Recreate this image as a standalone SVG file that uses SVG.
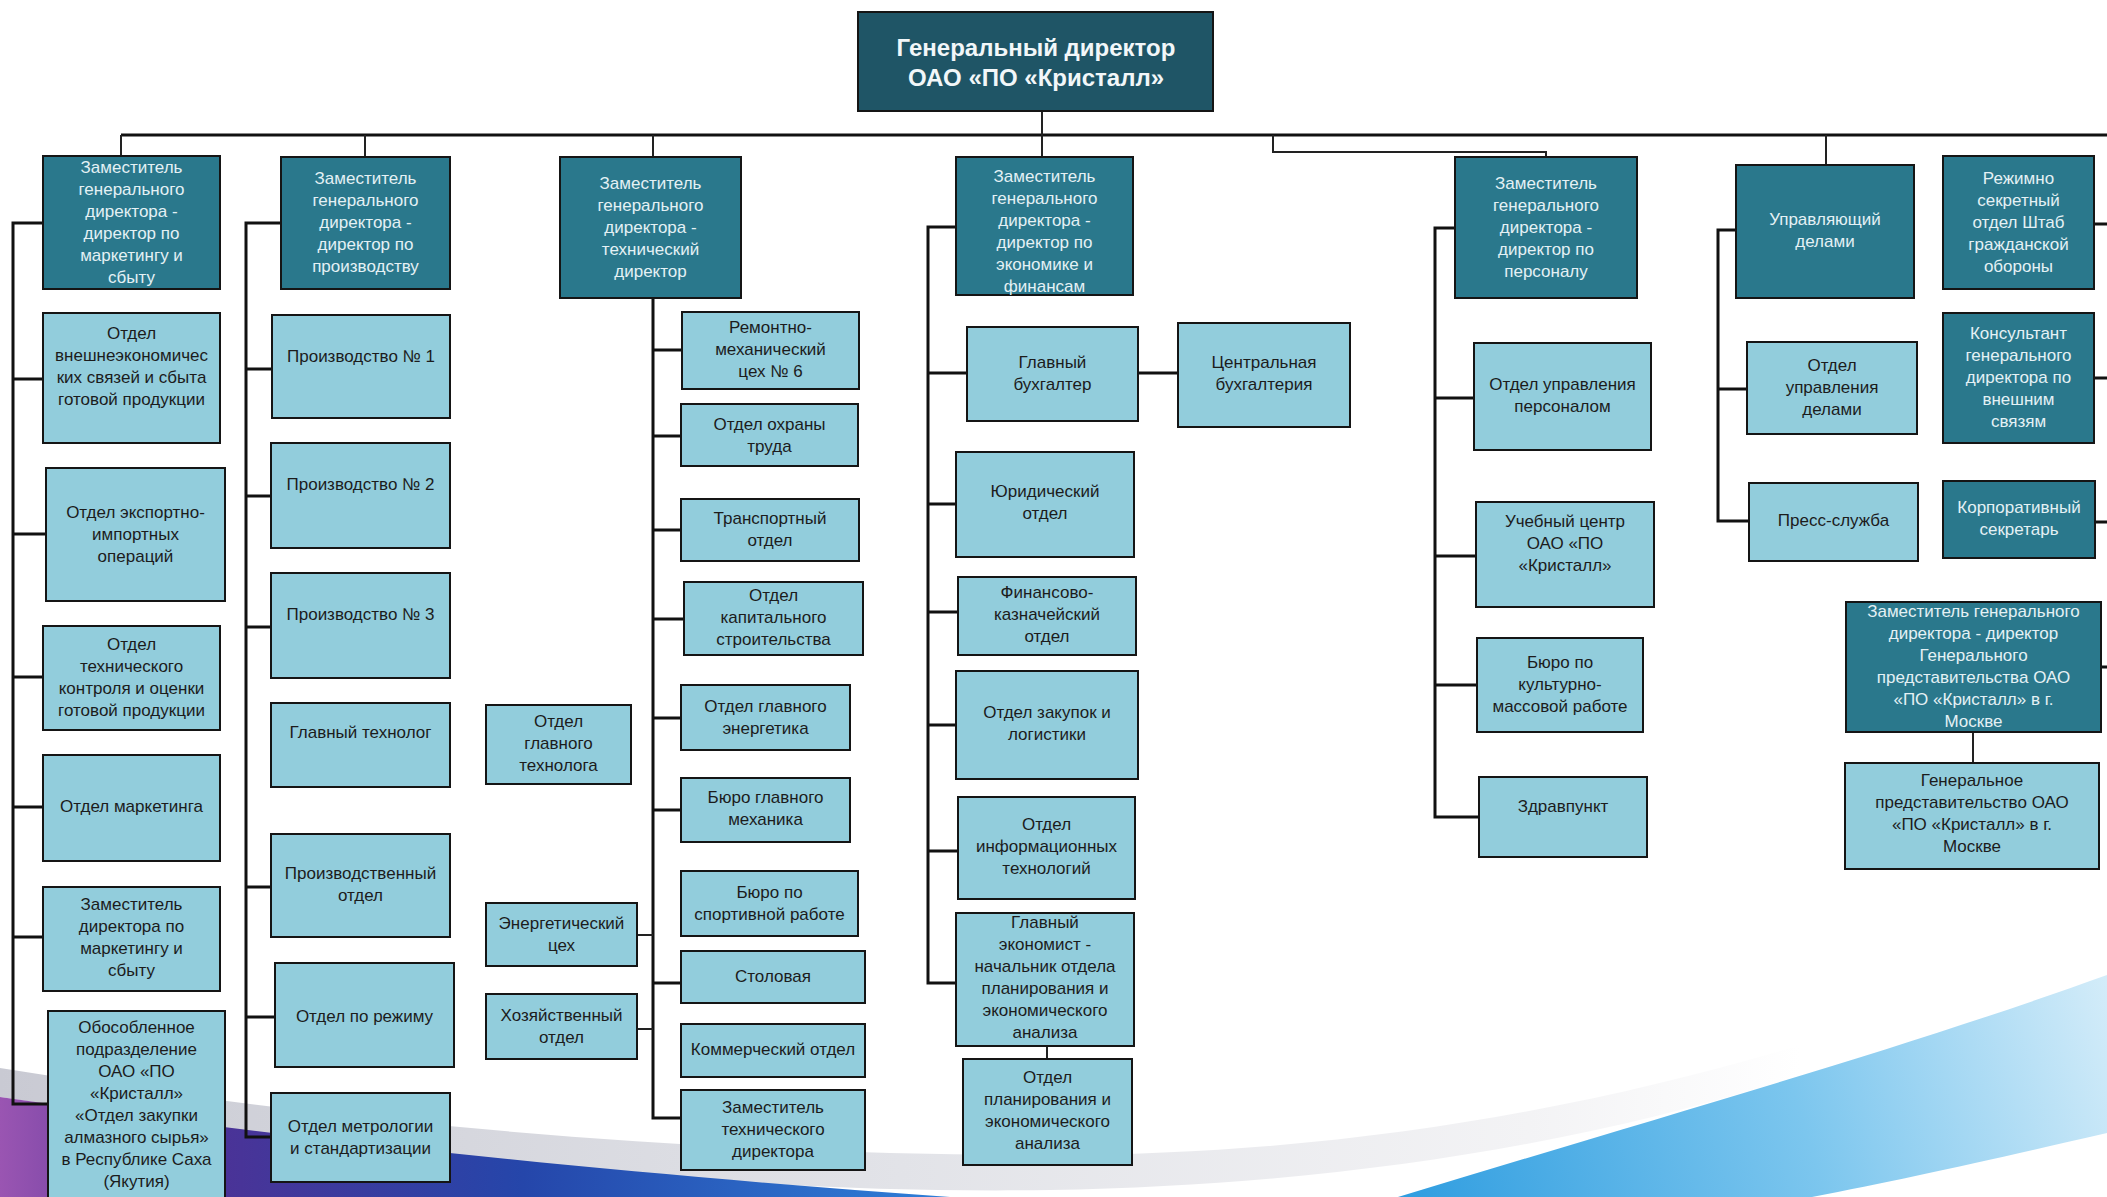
<svg xmlns="http://www.w3.org/2000/svg" width="2107" height="1197" viewBox="0 0 2107 1197">
  <defs>
    <linearGradient id="swooshGrey" x1="0" y1="0" x2="1" y2="0">
      <stop offset="0" stop-color="#c9cad3"/>
      <stop offset="0.5" stop-color="#e2e3e8"/>
      <stop offset="0.85" stop-color="#f3f3f5"/>
      <stop offset="1" stop-color="#ffffff"/>
    </linearGradient>
    <linearGradient id="swooshViolet" x1="0" y1="0" x2="1" y2="0">
      <stop offset="0" stop-color="#9a55b2"/>
      <stop offset="0.22" stop-color="#4c3296"/>
      <stop offset="0.55" stop-color="#2546aa"/>
      <stop offset="1" stop-color="#2f7fd8"/>
    </linearGradient>
    <linearGradient id="swooshBlue" x1="1400" y1="1197" x2="2107" y2="980" gradientUnits="userSpaceOnUse">
      <stop offset="0" stop-color="#2f9de0"/>
      <stop offset="0.55" stop-color="#7cc6ee"/>
      <stop offset="1" stop-color="#d3ecf9"/>
    </linearGradient>
    <style>
      .dark { fill: #2a788c; stroke: #151515; stroke-width: 2; }
      .top { fill: #1f5566; stroke: #151515; stroke-width: 2; }
      .light { fill: #92cddc; stroke: #151515; stroke-width: 2; }
      text { font-family: "Liberation Sans", Arial, sans-serif; font-size: 17px; text-anchor: middle; }
      .tl { fill: #1c1c1c; }
      .td { fill: #e4f1f5; }
      .tg { fill: #f2f7f9; font-size: 24px; font-weight: bold; }
      .bus { fill: none; stroke: #111; stroke-width: 3; }
      .drop { fill: none; stroke: #222; stroke-width: 2; }
    </style>
  </defs>

  <rect x="0" y="0" width="2107" height="1197" fill="#ffffff"/>

  <!-- decorative swooshes along the bottom edge -->
  <g id="decor">
    <path d="M0,1068 C350,1125 700,1155 1050,1155 C1350,1155 1600,1105 1800,1045 L1800,1075 C1600,1140 1350,1185 1050,1190 C700,1195 350,1150 0,1097 Z" fill="url(#swooshGrey)"/>
    <path d="M0,1097 C300,1140 600,1172 950,1197 L0,1197 Z" fill="url(#swooshViolet)"/>
    <path d="M1398,1197 C1650,1120 1900,1050 2107,975 L2107,1133 C1990,1160 1900,1180 1812,1197 Z" fill="url(#swooshBlue)"/>
  </g>

  <!-- connectors -->
  <g id="connectors">
    <path class="bus" d="M121,135 H2107"/>
    <path class="drop" d="M1042,111 V157"/>
    <path class="drop" d="M121,135 V156"/>
    <path class="drop" d="M365,135 V157"/>
    <path class="drop" d="M653,135 V157"/>
    <path class="drop" d="M1273,135 V152 H1546 V157"/>
    <path class="drop" d="M1826,135 V165"/>
    <!-- stubs toward the right-hand column -->
    <path class="bus" d="M2094,224 H2107 M2094,378 H2107 M2095,522 H2107 M2101,667 H2107"/>

    <!-- marketing column -->
    <path class="bus" d="M43,223 H13 V1104 H48"/>
    <path class="bus" d="M13,379 H43 M13,534 H46 M13,677 H43 M13,807 H43 M13,937 H43"/>

    <!-- production column -->
    <path class="bus" d="M281,223 H246 V1137 H271"/>
    <path class="bus" d="M246,369 H272 M246,496 H271 M246,627 H271 M246,887 H271 M246,1017 H275"/>

    <!-- technical column -->
    <path class="bus" d="M653,298 V1118 H681"/>
    <path class="bus" d="M653,350 H682 M653,436 H681 M653,530 H681 M653,619 H684 M653,718 H681 M653,810 H681 M653,983 H681"/>
    <path class="drop" d="M637,935 H653 M637,1029 H653"/>

    <!-- economics column -->
    <path class="bus" d="M956,227 H928 V983 H956"/>
    <path class="bus" d="M928,373 H967 M928,504 H956 M928,612 H958 M928,725 H956 M928,851 H958"/>
    <path class="bus" d="M1138,373 H1178"/>
    <path class="drop" d="M1047,1046 V1059"/>

    <!-- personnel column -->
    <path class="bus" d="M1455,228 H1435 V817 H1479"/>
    <path class="bus" d="M1435,398 H1474 M1435,556 H1476 M1435,685 H1477"/>

    <!-- administration column -->
    <path class="bus" d="M1736,230 H1718 V521 H1749"/>
    <path class="bus" d="M1718,389 H1747"/>

    <!-- Moscow representation -->
    <path class="drop" d="M1973,732 V763"/>
  </g>

  <!-- general director -->
  <g id="gd">
    <rect class="top" x="858" y="12" width="355" height="99"/>
    <text class="tg" x="1036" y="56">Генеральный директор</text>
    <text class="tg" x="1036" y="86">ОАО «ПО «Кристалл»</text>
  </g>

  <!-- marketing and sales -->
  <g id="a1"><rect class="dark" x="43" y="156" width="177" height="133"/>
    <text class="td" y="173"><tspan x="131.5">Заместитель</tspan><tspan x="131.5" dy="22">генерального</tspan><tspan x="131.5" dy="22">директора -</tspan><tspan x="131.5" dy="22">директор по</tspan><tspan x="131.5" dy="22">маркетингу и</tspan><tspan x="131.5" dy="22">сбыту</tspan></text></g>
  <g id="a2"><rect class="light" x="43" y="313" width="177" height="130"/>
    <text class="tl" y="339"><tspan x="131.5">Отдел</tspan><tspan x="131.5" dy="22">внешнеэкономичес</tspan><tspan x="131.5" dy="22">ких связей и сбыта</tspan><tspan x="131.5" dy="22">готовой продукции</tspan></text></g>
  <g id="a3"><rect class="light" x="46" y="468" width="179" height="133"/>
    <text class="tl" y="518"><tspan x="135.5">Отдел экспортно-</tspan><tspan x="135.5" dy="22">импортных</tspan><tspan x="135.5" dy="22">операций</tspan></text></g>
  <g id="a4"><rect class="light" x="43" y="626" width="177" height="104"/>
    <text class="tl" y="650"><tspan x="131.5">Отдел</tspan><tspan x="131.5" dy="22">технического</tspan><tspan x="131.5" dy="22">контроля и оценки</tspan><tspan x="131.5" dy="22">готовой продукции</tspan></text></g>
  <g id="a5"><rect class="light" x="43" y="755" width="177" height="106"/>
    <text class="tl" x="131.5" y="812">Отдел маркетинга</text></g>
  <g id="a6"><rect class="light" x="43" y="887" width="177" height="104"/>
    <text class="tl" y="910"><tspan x="131.5">Заместитель</tspan><tspan x="131.5" dy="22">директора по</tspan><tspan x="131.5" dy="22">маркетингу и</tspan><tspan x="131.5" dy="22">сбыту</tspan></text></g>
  <g id="a7"><rect class="light" x="48" y="1011" width="177" height="192"/>
    <text class="tl" y="1033"><tspan x="136.5">Обособленное</tspan><tspan x="136.5" dy="22">подразделение</tspan><tspan x="136.5" dy="22">ОАО «ПО</tspan><tspan x="136.5" dy="22">«Кристалл»</tspan><tspan x="136.5" dy="22">«Отдел закупки</tspan><tspan x="136.5" dy="22">алмазного сырья»</tspan><tspan x="136.5" dy="22">в Республике Саха</tspan><tspan x="136.5" dy="22">(Якутия)</tspan></text></g>

  <!-- production -->
  <g id="b1"><rect class="dark" x="281" y="157" width="169" height="132"/>
    <text class="td" y="184"><tspan x="365.5">Заместитель</tspan><tspan x="365.5" dy="22">генерального</tspan><tspan x="365.5" dy="22">директора -</tspan><tspan x="365.5" dy="22">директор по</tspan><tspan x="365.5" dy="22">производству</tspan></text></g>
  <g id="b2"><rect class="light" x="272" y="315" width="178" height="103"/>
    <text class="tl" x="361" y="362">Производство № 1</text></g>
  <g id="b3"><rect class="light" x="271" y="443" width="179" height="105"/>
    <text class="tl" x="360.5" y="490">Производство № 2</text></g>
  <g id="b4"><rect class="light" x="271" y="573" width="179" height="105"/>
    <text class="tl" x="360.5" y="620">Производство № 3</text></g>
  <g id="b5"><rect class="light" x="271" y="703" width="179" height="84"/>
    <text class="tl" x="360.5" y="738">Главный технолог</text></g>
  <g id="b6"><rect class="light" x="271" y="834" width="179" height="103"/>
    <text class="tl" y="879"><tspan x="360.5">Производственный</tspan><tspan x="360.5" dy="22">отдел</tspan></text></g>
  <g id="b7"><rect class="light" x="275" y="963" width="179" height="104"/>
    <text class="tl" x="364.5" y="1022">Отдел по режиму</text></g>
  <g id="b8"><rect class="light" x="271" y="1093" width="179" height="89"/>
    <text class="tl" y="1132"><tspan x="360.5">Отдел метрологии</tspan><tspan x="360.5" dy="22">и стандартизации</tspan></text></g>

  <!-- technical -->
  <g id="c1"><rect class="dark" x="560" y="157" width="181" height="141"/>
    <text class="td" y="189"><tspan x="650.5">Заместитель</tspan><tspan x="650.5" dy="22">генерального</tspan><tspan x="650.5" dy="22">директора -</tspan><tspan x="650.5" dy="22">технический</tspan><tspan x="650.5" dy="22">директор</tspan></text></g>
  <g id="c2"><rect class="light" x="682" y="312" width="177" height="77"/>
    <text class="tl" y="333"><tspan x="770.5">Ремонтно-</tspan><tspan x="770.5" dy="22">механический</tspan><tspan x="770.5" dy="22">цех № 6</tspan></text></g>
  <g id="c3"><rect class="light" x="681" y="404" width="177" height="62"/>
    <text class="tl" y="430"><tspan x="769.5">Отдел охраны</tspan><tspan x="769.5" dy="22">труда</tspan></text></g>
  <g id="c4"><rect class="light" x="681" y="499" width="178" height="62"/>
    <text class="tl" y="524"><tspan x="770">Транспортный</tspan><tspan x="770" dy="22">отдел</tspan></text></g>
  <g id="c5"><rect class="light" x="684" y="582" width="179" height="73"/>
    <text class="tl" y="601"><tspan x="773.5">Отдел</tspan><tspan x="773.5" dy="22">капитального</tspan><tspan x="773.5" dy="22">строительства</tspan></text></g>
  <g id="c6"><rect class="light" x="681" y="685" width="169" height="65"/>
    <text class="tl" y="712"><tspan x="765.5">Отдел главного</tspan><tspan x="765.5" dy="22">энергетика</tspan></text></g>
  <g id="c7"><rect class="light" x="681" y="778" width="169" height="64"/>
    <text class="tl" y="803"><tspan x="765.5">Бюро главного</tspan><tspan x="765.5" dy="22">механика</tspan></text></g>
  <g id="c8"><rect class="light" x="681" y="871" width="177" height="65"/>
    <text class="tl" y="898"><tspan x="769.5">Бюро по</tspan><tspan x="769.5" dy="22">спортивной работе</tspan></text></g>
  <g id="c9"><rect class="light" x="681" y="951" width="184" height="52"/>
    <text class="tl" x="773" y="982">Столовая</text></g>
  <g id="c10"><rect class="light" x="681" y="1024" width="184" height="53"/>
    <text class="tl" x="773" y="1055">Коммерческий отдел</text></g>
  <g id="c11"><rect class="light" x="681" y="1090" width="184" height="80"/>
    <text class="tl" y="1113"><tspan x="773">Заместитель</tspan><tspan x="773" dy="22">технического</tspan><tspan x="773" dy="22">директора</tspan></text></g>
  <g id="c12"><rect class="light" x="486" y="705" width="145" height="79"/>
    <text class="tl" y="727"><tspan x="558.5">Отдел</tspan><tspan x="558.5" dy="22">главного</tspan><tspan x="558.5" dy="22">технолога</tspan></text></g>
  <g id="c13"><rect class="light" x="486" y="903" width="151" height="63"/>
    <text class="tl" y="929"><tspan x="561.5">Энергетический</tspan><tspan x="561.5" dy="22">цех</tspan></text></g>
  <g id="c14"><rect class="light" x="486" y="994" width="151" height="65"/>
    <text class="tl" y="1021"><tspan x="561.5">Хозяйственный</tspan><tspan x="561.5" dy="22">отдел</tspan></text></g>

  <!-- economics and finance -->
  <g id="d1"><rect class="dark" x="956" y="157" width="177" height="138"/>
    <text class="td" y="182"><tspan x="1044.5">Заместитель</tspan><tspan x="1044.5" dy="22">генерального</tspan><tspan x="1044.5" dy="22">директора -</tspan><tspan x="1044.5" dy="22">директор по</tspan><tspan x="1044.5" dy="22">экономике и</tspan><tspan x="1044.5" dy="22">финансам</tspan></text></g>
  <g id="d2"><rect class="light" x="967" y="327" width="171" height="94"/>
    <text class="tl" y="368"><tspan x="1052.5">Главный</tspan><tspan x="1052.5" dy="22">бухгалтер</tspan></text></g>
  <g id="d9"><rect class="light" x="1178" y="323" width="172" height="104"/>
    <text class="tl" y="368"><tspan x="1264">Центральная</tspan><tspan x="1264" dy="22">бухгалтерия</tspan></text></g>
  <g id="d3"><rect class="light" x="956" y="452" width="178" height="105"/>
    <text class="tl" y="497"><tspan x="1045">Юридический</tspan><tspan x="1045" dy="22">отдел</tspan></text></g>
  <g id="d4"><rect class="light" x="958" y="577" width="178" height="78"/>
    <text class="tl" y="598"><tspan x="1047">Финансово-</tspan><tspan x="1047" dy="22">казначейский</tspan><tspan x="1047" dy="22">отдел</tspan></text></g>
  <g id="d5"><rect class="light" x="956" y="671" width="182" height="108"/>
    <text class="tl" y="718"><tspan x="1047">Отдел закупок и</tspan><tspan x="1047" dy="22">логистики</tspan></text></g>
  <g id="d6"><rect class="light" x="958" y="797" width="177" height="102"/>
    <text class="tl" y="830"><tspan x="1046.5">Отдел</tspan><tspan x="1046.5" dy="22">информационных</tspan><tspan x="1046.5" dy="22">технологий</tspan></text></g>
  <g id="d7"><rect class="light" x="956" y="913" width="178" height="133"/>
    <text class="tl" y="928"><tspan x="1045">Главный</tspan><tspan x="1045" dy="22">экономист -</tspan><tspan x="1045" dy="22">начальник  отдела</tspan><tspan x="1045" dy="22">планирования и</tspan><tspan x="1045" dy="22">экономического</tspan><tspan x="1045" dy="22">анализа</tspan></text></g>
  <g id="d8"><rect class="light" x="963" y="1059" width="169" height="106"/>
    <text class="tl" y="1083"><tspan x="1047.5">Отдел</tspan><tspan x="1047.5" dy="22">планирования и</tspan><tspan x="1047.5" dy="22">экономического</tspan><tspan x="1047.5" dy="22">анализа</tspan></text></g>

  <!-- personnel -->
  <g id="e1"><rect class="dark" x="1455" y="157" width="182" height="141"/>
    <text class="td" y="189"><tspan x="1546">Заместитель</tspan><tspan x="1546" dy="22">генерального</tspan><tspan x="1546" dy="22">директора -</tspan><tspan x="1546" dy="22">директор по</tspan><tspan x="1546" dy="22">персоналу</tspan></text></g>
  <g id="e2"><rect class="light" x="1474" y="343" width="177" height="107"/>
    <text class="tl" y="390"><tspan x="1562.5">Отдел управления</tspan><tspan x="1562.5" dy="22">персоналом</tspan></text></g>
  <g id="e3"><rect class="light" x="1476" y="502" width="178" height="105"/>
    <text class="tl" y="527"><tspan x="1565">Учебный центр</tspan><tspan x="1565" dy="22">ОАО «ПО</tspan><tspan x="1565" dy="22">«Кристалл»</tspan></text></g>
  <g id="e4"><rect class="light" x="1477" y="638" width="166" height="94"/>
    <text class="tl" y="668"><tspan x="1560">Бюро по</tspan><tspan x="1560" dy="22">культурно-</tspan><tspan x="1560" dy="22">массовой работе</tspan></text></g>
  <g id="e5"><rect class="light" x="1479" y="777" width="168" height="80"/>
    <text class="tl" x="1563" y="812">Здравпункт</text></g>

  <!-- administration -->
  <g id="f1"><rect class="dark" x="1736" y="165" width="178" height="133"/>
    <text class="td" y="225"><tspan x="1825">Управляющий</tspan><tspan x="1825" dy="22">делами</tspan></text></g>
  <g id="f2"><rect class="light" x="1747" y="342" width="170" height="92"/>
    <text class="tl" y="371"><tspan x="1832">Отдел</tspan><tspan x="1832" dy="22">управления</tspan><tspan x="1832" dy="22">делами</tspan></text></g>
  <g id="f3"><rect class="light" x="1749" y="483" width="169" height="78"/>
    <text class="tl" x="1833.5" y="526">Пресс-служба</text></g>

  <!-- right-hand column -->
  <g id="g1"><rect class="dark" x="1943" y="156" width="151" height="133"/>
    <text class="td" y="184"><tspan x="2018.5">Режимно</tspan><tspan x="2018.5" dy="22">секретный</tspan><tspan x="2018.5" dy="22">отдел Штаб</tspan><tspan x="2018.5" dy="22">гражданской</tspan><tspan x="2018.5" dy="22">обороны</tspan></text></g>
  <g id="g2"><rect class="dark" x="1943" y="313" width="151" height="130"/>
    <text class="td" y="339"><tspan x="2018.5">Консультант</tspan><tspan x="2018.5" dy="22">генерального</tspan><tspan x="2018.5" dy="22">директора по</tspan><tspan x="2018.5" dy="22">внешним</tspan><tspan x="2018.5" dy="22">связям</tspan></text></g>
  <g id="g3"><rect class="dark" x="1943" y="481" width="152" height="77"/>
    <text class="td" y="513"><tspan x="2019">Корпоративный</tspan><tspan x="2019" dy="22">секретарь</tspan></text></g>
  <g id="h1"><rect class="dark" x="1846" y="602" width="255" height="130"/>
    <text class="td" y="617"><tspan x="1973.5">Заместитель генерального</tspan><tspan x="1973.5" dy="22">директора - директор</tspan><tspan x="1973.5" dy="22">Генерального</tspan><tspan x="1973.5" dy="22">представительства ОАО</tspan><tspan x="1973.5" dy="22">«ПО «Кристалл» в г.</tspan><tspan x="1973.5" dy="22">Москве</tspan></text></g>
  <g id="h2"><rect class="light" x="1845" y="763" width="254" height="106"/>
    <text class="tl" y="786"><tspan x="1972">Генеральное</tspan><tspan x="1972" dy="22">представительство ОАО</tspan><tspan x="1972" dy="22">«ПО «Кристалл» в г.</tspan><tspan x="1972" dy="22">Москве</tspan></text></g>
</svg>
